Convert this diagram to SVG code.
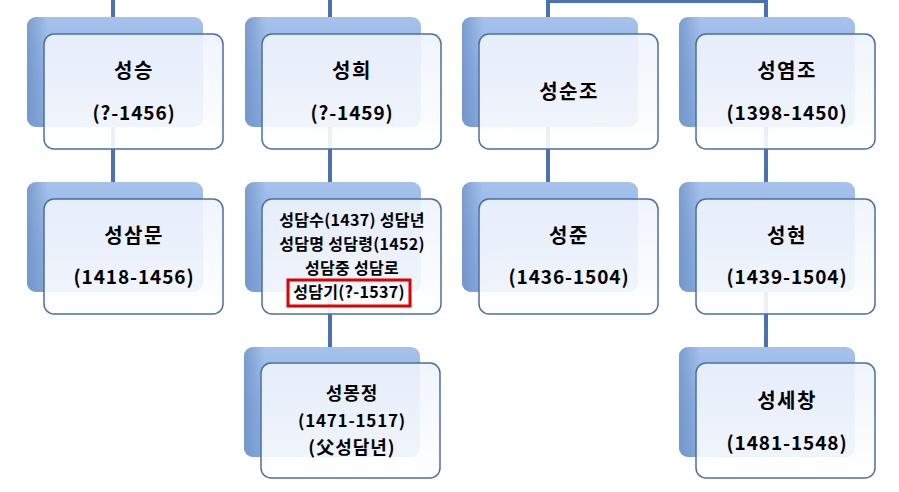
<svg xmlns="http://www.w3.org/2000/svg" width="899" height="492" viewBox="0 0 899 492">
<defs>
<linearGradient id="bg" x1="0" y1="0" x2="0" y2="1">
<stop offset="0" stop-color="#a6c2ec"/>
<stop offset="0.5" stop-color="#8fb1e2"/>
<stop offset="1" stop-color="#86a9dc"/>
</linearGradient>
<linearGradient id="bgl" x1="0" y1="0" x2="1" y2="0">
<stop offset="0" stop-color="#6f92c8" stop-opacity="0.8"/>
<stop offset="0.12" stop-color="#6f92c8" stop-opacity="0"/>
</linearGradient>
<linearGradient id="fg" x1="0" y1="0" x2="0" y2="1">
<stop offset="0" stop-color="#eef3fc"/>
<stop offset="1" stop-color="#ffffff"/>
</linearGradient>
</defs>
<style>
.back{fill:url(#bg);}
.backl{fill:url(#bgl);}
.front{fill:url(#fg);fill-opacity:0.9;stroke:#4a6fa8;stroke-width:1.5;}
.ln{stroke:#4a72b0;stroke-width:4;fill:none;}
text{font-family:"Malgun Gothic","Noto Sans CJK KR","Noto Sans",sans-serif;font-weight:bold;fill:#000;text-anchor:middle;}
.t{font-size:20px;letter-spacing:1.5px;}
.d{font-size:19px;letter-spacing:0.9px;}
.s{font-size:16px;letter-spacing:0.3px;}
.m{font-size:18px;letter-spacing:1px;}
.md{font-size:17px;letter-spacing:0.8px;}
.red{fill:none;stroke:#e00000;stroke-width:3;}
</style>
<rect width="899" height="492" fill="#ffffff"/>
<g id="connectors">
<line class="ln" x1="113" y1="0" x2="113" y2="190"/>
<line class="ln" x1="330" y1="0" x2="330" y2="354"/>
<line class="ln" x1="548" y1="0" x2="548" y2="190"/>
<line class="ln" x1="766" y1="0" x2="766" y2="354"/>
<line class="ln" x1="546" y1="1" x2="768" y2="1"/>
</g>
<g id="n1">
<rect class="back" x="27" y="17" width="176" height="110" rx="9"/>
<rect class="backl" x="27" y="17" width="176" height="110" rx="9"/>
<rect class="front" x="44" y="34" width="179" height="115" rx="10"/>
<text class="t" x="134" y="78">성승</text>
<text class="d" x="134" y="120">(?-1456)</text>
</g>
<g id="n2">
<rect class="back" x="245" y="17" width="176" height="110" rx="9"/>
<rect class="backl" x="245" y="17" width="176" height="110" rx="9"/>
<rect class="front" x="262" y="34" width="179" height="115" rx="10"/>
<text class="t" x="352" y="78">성희</text>
<text class="d" x="352" y="120">(?-1459)</text>
</g>
<g id="n3">
<rect class="back" x="462" y="17" width="176" height="110" rx="9"/>
<rect class="backl" x="462" y="17" width="176" height="110" rx="9"/>
<rect class="front" x="479" y="34" width="179" height="115" rx="10"/>
<text class="t" x="569" y="99">성순조</text>
</g>
<g id="n4">
<rect class="back" x="679" y="17" width="176" height="110" rx="9"/>
<rect class="backl" x="679" y="17" width="176" height="110" rx="9"/>
<rect class="front" x="696" y="34" width="179" height="115" rx="10"/>
<text class="t" x="787" y="78">성염조</text>
<text class="d" x="787" y="120">(1398-1450)</text>
</g>
<g id="n5">
<rect class="back" x="27" y="182" width="176" height="110" rx="9"/>
<rect class="backl" x="27" y="182" width="176" height="110" rx="9"/>
<rect class="front" x="44" y="199" width="179" height="115" rx="10"/>
<text class="t" x="134" y="243">성삼문</text>
<text class="d" x="134" y="284">(1418-1456)</text>
</g>
<g id="n6">
<rect class="back" x="245" y="182" width="176" height="110" rx="9"/>
<rect class="backl" x="245" y="182" width="176" height="110" rx="9"/>
<rect class="front" x="262" y="199" width="179" height="115" rx="10"/>
<text class="s" x="352" y="226">성담수(1437) 성담년</text>
<text class="s" x="352" y="250">성담명 성담령(1452)</text>
<text class="s" x="352" y="274">성담중 성담로</text>
<text class="s" x="349" y="298">성담기(?-1537)</text>
<rect class="red" x="288" y="280" width="122" height="26"/>
</g>
<g id="n7">
<rect class="back" x="462" y="182" width="176" height="110" rx="9"/>
<rect class="backl" x="462" y="182" width="176" height="110" rx="9"/>
<rect class="front" x="479" y="199" width="179" height="115" rx="10"/>
<text class="t" x="569" y="243">성준</text>
<text class="d" x="569" y="284">(1436-1504)</text>
</g>
<g id="n8">
<rect class="back" x="679" y="182" width="176" height="110" rx="9"/>
<rect class="backl" x="679" y="182" width="176" height="110" rx="9"/>
<rect class="front" x="696" y="199" width="179" height="115" rx="10"/>
<text class="t" x="787" y="243">성현</text>
<text class="d" x="787" y="284">(1439-1504)</text>
</g>
<g id="n9">
<rect class="back" x="244" y="347" width="176" height="110" rx="9"/>
<rect class="backl" x="244" y="347" width="176" height="110" rx="9"/>
<rect class="front" x="261" y="363" width="179" height="115" rx="10"/>
<text class="m" x="352" y="400">성몽정</text>
<text class="md" x="352" y="427">(1471-1517)</text>
<text class="m" x="352" y="454">(父성담년)</text>
</g>
<g id="n10">
<rect class="back" x="679" y="347" width="176" height="110" rx="9"/>
<rect class="backl" x="679" y="347" width="176" height="110" rx="9"/>
<rect class="front" x="696" y="363" width="179" height="115" rx="10"/>
<text class="t" x="787" y="408">성세창</text>
<text class="d" x="787" y="450">(1481-1548)</text>
</g>
</svg>
